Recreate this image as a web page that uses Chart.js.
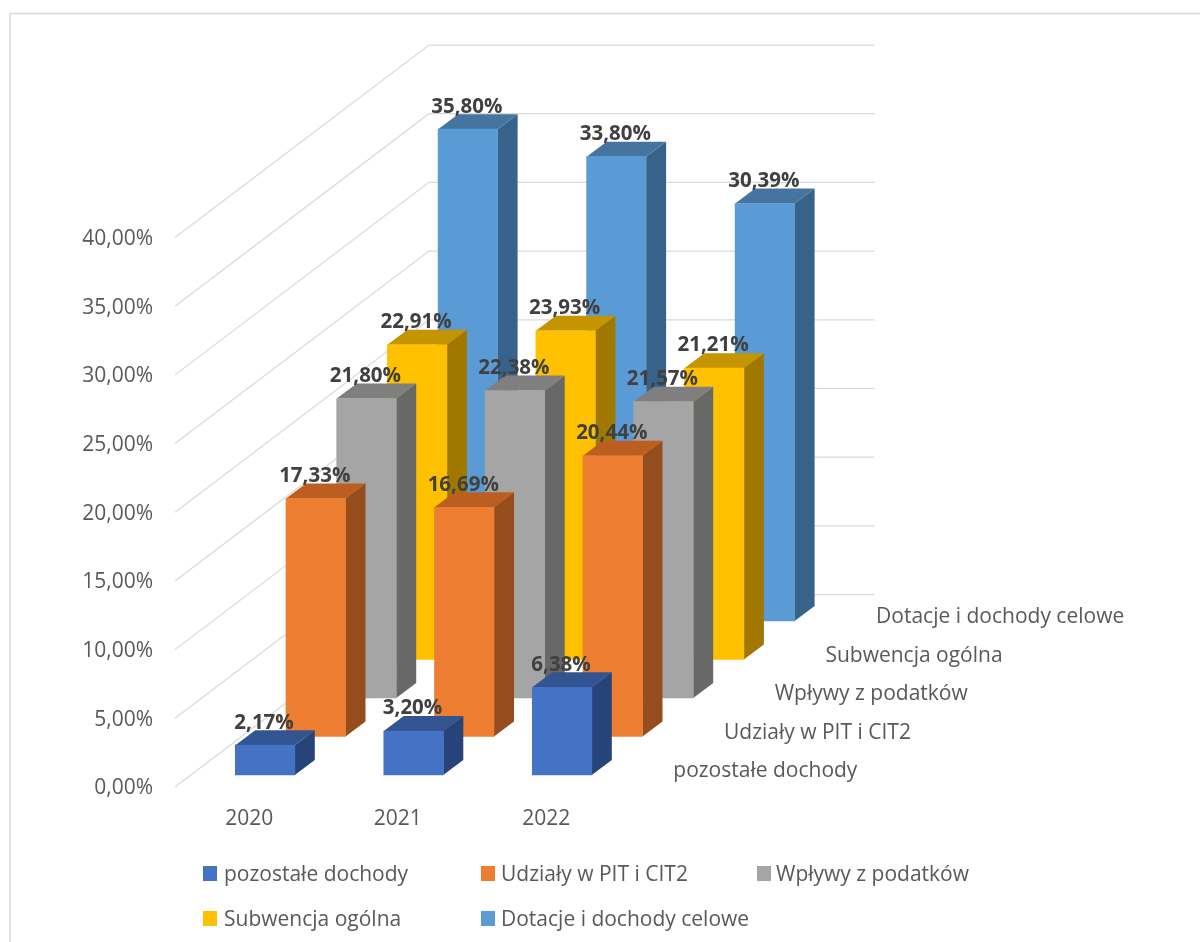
<!DOCTYPE html>
<html><head><meta charset="utf-8">
<style>html,body{margin:0;padding:0;background:#fff;overflow:hidden}#w{position:relative;width:1200px;height:942px}</style>
<script src="https://cdn.jsdelivr.net/npm/chart.js@4"></script></head>
<body><div id="w"><canvas id="c" width="1200" height="942"></canvas></div>
<script>
const categories = ['2020','2021','2022'];
const seriesNames = ['pozostałe dochody','Udziały w PIT i CIT2','Wpływy z podatków','Subwencja ogólna','Dotacje i dochody celowe'];
const pozostale = [2.17,3.20,6.38];
const udzialy = [17.33,16.69,20.44];
const wplywy = [21.80,22.38,21.57];
const subwencja = [22.91,23.93,21.21];
const dotacje = [35.80,33.80,30.39];
const seriesValues = [pozostale,udzialy,wplywy,subwencja,dotacje];
const frontColors = ['#4472C4','#ED7D31','#A5A5A5','#FFC000','#5B9BD5'];
const topColors = ['#325491','#BC5E20','#7F7F7F','#C49500','#44749F'];
const sideColors = ['#27447A','#964D1D','#686868','#A07800','#37638A'];
const FONT = '"Open Sans"';
const fmt = v => v.toFixed(2).replace('.',',')+'%';
const shift = k => ({dx:15.8+50.7*k, dy:-12-38.5*k});
const BACK = {dx:254, dy:-192.5};
const FACE = {dx:20, dy:-15};

const threeD = {
  id:'threeD',
  beforeDraw(chart){
    const c=chart.ctx; c.save();
    c.strokeStyle='#D9D9D9'; c.lineWidth=1.5;
    c.beginPath(); c.moveTo(10,942); c.lineTo(10,13.5); c.lineTo(1200,13.5); c.stroke();
    c.restore();
  },
  beforeDatasetsDraw(chart){
    const {x,y}=chart.scales, c=chart.ctx; c.save();
    c.strokeStyle='#D9D9D9'; c.lineWidth=1.25;
    y.ticks.forEach(t=>{
      const p=y.getPixelForValue(t.value);
      c.beginPath(); c.moveTo(x.left,p); c.lineTo(x.left+BACK.dx,p+BACK.dy); c.lineTo(x.right+BACK.dx,p+BACK.dy); c.stroke();
    });
    c.restore();
  },
  beforeDatasetDraw(chart,args){
    const c=chart.ctx, s=shift(args.index); c.save(); c.translate(s.dx,s.dy);
    args.meta.data.forEach(b=>{
      const l=b.x-b.width/2, r=b.x+b.width/2;
      c.fillStyle=sideColors[args.index];
      c.beginPath(); c.moveTo(r,b.y); c.lineTo(r+FACE.dx,b.y+FACE.dy); c.lineTo(r+FACE.dx,b.base+FACE.dy); c.lineTo(r,b.base); c.closePath(); c.fill();
      c.fillStyle=topColors[args.index];
      c.beginPath(); c.moveTo(l,b.y); c.lineTo(l+FACE.dx,b.y+FACE.dy); c.lineTo(r+FACE.dx,b.y+FACE.dy); c.lineTo(r,b.y); c.closePath(); c.fill();
    });
  },
  afterDatasetDraw(chart){ chart.ctx.restore(); },
  afterDatasetsDraw(chart){
    const c=chart.ctx, {x}=chart.scales; c.save();
    c.textBaseline='middle';
    // data labels
    c.textAlign='center'; c.font='bold 20.5px '+FONT; c.fillStyle='#404040';
    for(let k=seriesNames.length-1;k>=0;k--){
      const s=shift(k);
      chart.getDatasetMeta(k).data.forEach((b,i)=>{
        c.fillText(fmt(seriesValues[k][i]), b.x+s.dx-1, b.y+s.dy-22.5);
      });
    }
    // depth axis labels
    c.textAlign='left'; c.font='21px '+FONT; c.fillStyle='#595959';
    seriesNames.forEach((n,k)=>{
      const s=shift(k);
      c.fillText(n, x.right+37+s.dx, 783.5+s.dy);
    });
    // legend
    const cols=[203,481,757], textCols=[224,501,776], rows=[874,919];
    seriesNames.forEach((n,k)=>{
      const col=k<3?k:k-3, row=k<3?0:1;
      c.fillStyle=frontColors[k];
      c.fillRect(cols[col],rows[row]-8,14,15);
      c.fillStyle='#595959';
      c.fillText(n,textCols[col],rows[row]+1);
    });
    c.restore();
  }
};

new Chart(document.getElementById('c'),{
  type:'bar',
  data:{labels:categories,datasets:seriesNames.map((n,k)=>({
    label:n,data:seriesValues[k],backgroundColor:frontColors[k],
    barThickness:59.5,grouped:false,clip:false
  }))},
  options:{
    responsive:false,animation:false,
    layout:{padding:{top:237.5,right:579.5,left:0,bottom:0}},
    plugins:{legend:{display:false},tooltip:{enabled:false},title:{display:false}},
    scales:{
      x:{grid:{display:false},border:{display:false},
        ticks:{color:'#595959',font:{family:FONT,size:21},padding:11.5,maxRotation:0},
        afterFit(s){s.height=155;}},
      y:{min:0,max:40,grid:{display:false,drawTicks:false},border:{display:false},
        ticks:{stepSize:5,color:'#595959',font:{family:FONT,size:21},padding:22,labelOffset:1.5,callback:v=>fmt(v)},
        afterFit(s){s.width=175;}}
    }
  },
  plugins:[threeD]
});
</script></body></html>
